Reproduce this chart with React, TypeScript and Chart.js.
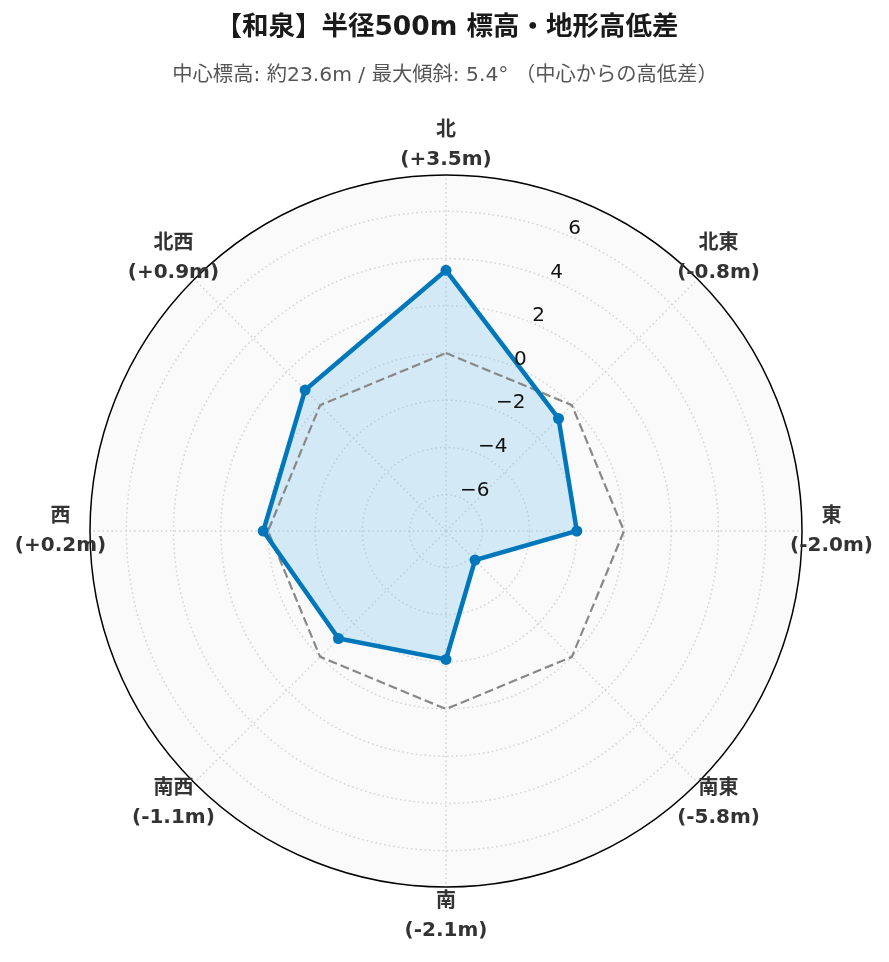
import React, { useEffect, useRef } from "react";
import { Chart, registerables } from "chart.js";

Chart.register(...registerables);

const TITLE = "【和泉】半径500m 標高・地形高低差";
const SUBTITLE = "中心標高: 約23.6m / 最大傾斜: 5.4° （中心からの高低差）";
const DIRECTIONS = ["北", "北東", "東", "南東", "南", "南西", "西", "北西"];
const DIFF_LABELS = ["(+3.5m)", "(-0.8m)", "(-2.0m)", "(-5.8m)", "(-2.1m)", "(-1.1m)", "(+0.2m)", "(+0.9m)"];
const ELEVATION_DIFF = [3.5, -0.8, -2.0, -5.8, -2.1, -1.1, 0.2, 0.9];
const ZERO_LINE = [0, 0, 0, 0, 0, 0, 0, 0];
const R_TICKS = [-6, -4, -2, 0, 2, 4, 6];
const R_TICK_LABELS = ["−6", "−4", "−2", "0", "2", "4", "6"];
const R_MIN = -7.54;
const R_MAX = 7.54;

const FONT_FAMILY = "'DejaVu Sans', 'Noto Sans CJK JP', sans-serif";

const decorPlugin = {
  id: "decor",
  beforeDraw(chart: any) {
    const s = chart.scales.r;
    const ctx = chart.ctx;
    ctx.save();
    ctx.fillStyle = "#ffffff";
    ctx.fillRect(0, 0, chart.width, chart.height);
    ctx.fillStyle = "#fafafa";
    ctx.beginPath();
    ctx.arc(s.xCenter, s.yCenter, s.drawingArea, 0, Math.PI * 2);
    ctx.fill();
    ctx.restore();
  },
  afterDatasetsDraw(chart: any) {
    const s = chart.scales.r;
    const ctx = chart.ctx;
    ctx.save();
    ctx.font = `20px ${FONT_FAMILY}`;
    ctx.fillStyle = "#111111";
    ctx.textAlign = "left";
    ctx.textBaseline = "bottom";
    const ang = -Math.PI / 2 + (22.5 * Math.PI) / 180;
    R_TICKS.forEach((v, i) => {
      const r = s.getDistanceFromCenterForValue(v);
      const x = s.xCenter + r * Math.cos(ang);
      const y = s.yCenter + r * Math.sin(ang);
      ctx.fillText(R_TICK_LABELS[i], x, y + 3);
    });
    ctx.restore();
  },
  afterDraw(chart: any) {
    const s = chart.scales.r;
    const ctx = chart.ctx;
    ctx.save();
    // outer circle
    ctx.strokeStyle = "#000000";
    ctx.lineWidth = 1.5;
    ctx.beginPath();
    ctx.arc(s.xCenter, s.yCenter, s.drawingArea, 0, Math.PI * 2);
    ctx.stroke();
    // point labels
    ctx.font = `bold 20px ${FONT_FAMILY}`;
    ctx.fillStyle = "#333333";
    ctx.textAlign = "center";
    ctx.textBaseline = "middle";
    DIRECTIONS.forEach((d, i) => {
      const p = s.getPointPosition(i, s.drawingArea + 29.5);
      ctx.fillText(d, p.x, p.y - 14.5);
      ctx.fillText(DIFF_LABELS[i], p.x, p.y + 14.5);
    });
    // title & subtitle
    ctx.font = `bold 26.5px ${FONT_FAMILY}`;
    ctx.fillStyle = "#1a1a1a";
    ctx.fillText(TITLE, 447, 28);
    ctx.font = `20.3px ${FONT_FAMILY}`;
    ctx.fillStyle = "#555555";
    ctx.fillText(SUBTITLE, 445, 76);
    ctx.restore();
  },
};

export default function App() {
  const canvasRef = useRef<HTMLCanvasElement | null>(null);

  useEffect(() => {
    if (!canvasRef.current) return;
    const chart = new Chart(canvasRef.current, {
      type: "radar",
      data: {
        labels: DIRECTIONS,
        datasets: [
          {
            label: "基準 (0m)",
            data: ZERO_LINE,
            borderColor: "#888888",
            borderWidth: 2.2,
            borderDash: [9, 4],
            pointRadius: 0,
            fill: false,
            order: 2,
          },
          {
            label: "高低差",
            data: ELEVATION_DIFF,
            borderColor: "#0077bb",
            backgroundColor: "rgba(100,190,235,0.26)",
            borderWidth: 4.5,
            pointRadius: 5.5,
            pointBackgroundColor: "#0077bb",
            pointBorderColor: "#0077bb",
            pointBorderWidth: 0,
            fill: "start",
            order: 1,
          },
        ],
      },
      options: {
        responsive: false,
        devicePixelRatio: 1,
        animation: false,
        layout: { padding: { left: 90, right: 87, top: 175, bottom: 75 } },
        plugins: {
          legend: { display: false },
          title: { display: false },
          tooltip: { enabled: false },
          filler: { drawTime: "beforeDatasetsDraw" },
        },
        scales: {
          r: {
            min: R_MIN,
            max: R_MAX,
            startAngle: 0,
            afterBuildTicks: (scale: any) => {
              scale.ticks = R_TICKS.map((v) => ({ value: v }));
            },
            ticks: { display: false },
            grid: { circular: true, color: "#d4d4d4", lineWidth: 1.5 },
            border: { dash: [1.5, 3] },
            angleLines: { display: true, color: "#d4d4d4", lineWidth: 1.5, borderDash: [1.5, 3] },
            pointLabels: { display: false },
          },
        },
      } as any,
      plugins: [decorPlugin],
    });
    return () => chart.destroy();
  }, []);

  return (
    <div style={{ position: "absolute", left: 0, top: 0, width: 889, height: 962 }}>
      <canvas ref={canvasRef} width={889} height={962} style={{ display: "block" }} />
    </div>
  );
}
